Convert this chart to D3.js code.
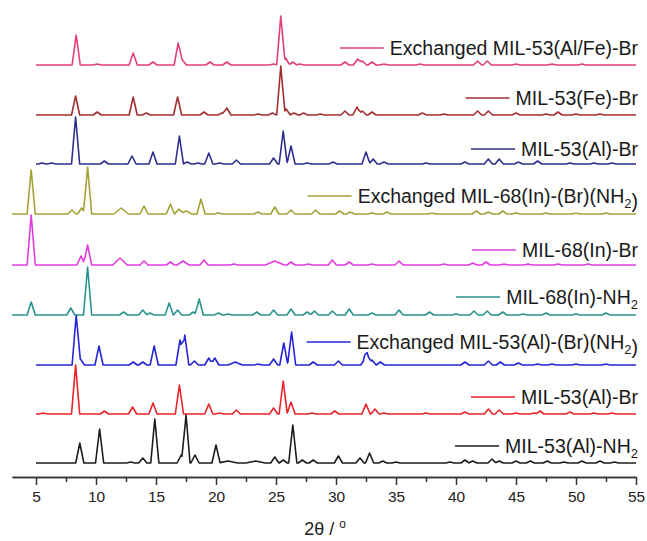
<!DOCTYPE html>
<html>
<head>
<meta charset="utf-8">
<script src="https://cdn.jsdelivr.net/npm/d3@7"></script>
<style>
  html, body { margin: 0; padding: 0; background: #fff; }
  svg { display: block; font-family: "Liberation Sans", Arial, sans-serif; }
</style>
</head>
<body>
<svg id="chart" width="647" height="541"></svg>
<script>
// ---------------- data ----------------
// series listed bottom -> top
const seriesNames = [
  "MIL-53(Al)-NH2",
  "MIL-53(Al)-Br",
  "Exchanged MIL-53(Al)-(Br)(NH2)",
  "MIL-68(In)-NH2",
  "MIL-68(In)-Br",
  "Exchanged MIL-68(In)-(Br)(NH2)",
  "MIL-53(Al)-Br",
  "MIL-53(Fe)-Br",
  "Exchanged MIL-53(Al/Fe)-Br"
];
// vertical stacking offsets (intensity units, a.u.)
const seriesOffsets = [14, 63, 112, 162, 212, 263, 313, 362, 412];
// 2θ range measured for each pattern
const seriesStart = [5, 5, 5, 3, 3, 3, 5, 5, 5];
const seriesEnd   = [55, 55, 55, 55, 55, 55, 55, 55, 55];

// peaks: [2θ, intensity (a.u.), optional half width in degrees]
const peaksAlNH2 = [[8.65,20],[10.3,34],[12.9,1],[13.9,5],[14.9,44],[17.1,8],[17.5,48],[18.25,8],[20.0,18],[21.0,2,0.8],[23.3,2,0.8],[24.9,6],[25.6,3],[26.4,38],[27.2,3],[28.1,3],[30.2,7],[32.0,5],[32.8,10],[33.9,2],[35.0,1],[39.5,1],[40.75,3],[41.4,2],[43.0,4],[43.6,2],[45.0,2],[46.2,2],[47.6,2],[49.0,1],[50.5,2],[52.0,2],[53.2,1]];
const peaksAlBr = [[5.6,1],[8.3,49],[10.7,3],[13.05,7],[14.75,11],[16.95,29],[19.4,10],[20.3,1],[21.7,4],[24.8,6],[25.6,33],[26.25,12],[28.0,1],[29.9,3],[32.5,10],[33.25,5],[34.0,1],[37.5,1],[40.75,2],[42.7,5],[43.6,4],[45.0,1],[46.5,1],[47.0,3],[49.5,2],[51.5,1],[53,1]];
const peaksExAl = [[8.35,50],[8.7,6],[10.25,19],[13.1,3],[13.9,3],[14.85,19],[17.0,25],[17.4,30],[18.2,4],[19.4,7],[19.9,7],[21.6,3,0.6],[23.5,1],[24.8,6],[25.65,22],[26.3,33],[28.1,3],[30.2,4],[32.4,6],[32.6,10],[33.0,5],[33.7,3],[40.75,3],[42.7,4],[43.7,3],[45.2,2],[46.8,1],[48.0,1],[50.0,1],[52.5,1]];
const peaksInNH2 = [[4.6,13],[7.9,7],[9.3,48],[12.3,3],[13.9,5],[14.5,2],[16.1,12],[16.8,5],[18.1,3],[18.6,16],[20.2,2],[21.0,1],[23.4,3],[24.8,5],[26.25,6],[27.6,3],[28.2,4],[29.7,4],[31.1,6],[33.0,2],[35.25,5],[37.8,3],[40.0,1],[41.5,4],[42.6,4],[43.9,3],[45.6,1],[47.5,2],[50,1],[52.5,2]];
const peaksInBr = [[4.6,50],[8.75,9],[9.3,20],[12.0,7,0.6],[14.0,4],[16.2,3],[17.25,4,0.5],[19.0,5],[21.5,1],[24.9,4,0.8],[26.25,3],[27.7,1],[29.7,5],[31.1,3],[33.0,1],[35.25,4],[39.0,1],[41.4,2],[42.5,3],[44.0,1],[46.0,1],[48.5,1],[51,1]];
const peaksExIn = [[4.6,44],[8.0,4],[8.8,6],[9.3,47],[12.1,6,0.6],[14.0,8],[16.2,10],[16.9,5],[17.5,3,0.5],[18.75,15],[20.2,1],[23.5,2],[24.9,7],[26.25,4],[28.3,4],[30.3,3],[31.2,2],[33.0,1],[34.25,2],[38.0,1],[41.7,3],[42.7,2],[43.9,3],[45.0,1],[47.5,1],[50,1],[52.5,1]];
const peaksAlBr2 = [[5.5,1],[6.3,1],[8.3,47],[10.7,3],[13.0,8],[14.75,12],[16.95,28],[17.6,2],[18.5,1],[19.4,11],[20.3,1],[21.7,4],[24.8,6],[25.6,33],[26.25,18],[27.6,1],[29.75,2],[32.5,12],[33.1,5],[34.0,2],[37.5,1],[40.75,2],[42.7,5],[43.6,5],[45.2,2],[46.8,3],[49.5,1],[51.5,1],[53,1]];
const peaksFeBr = [[8.3,19],[10.1,3],[13.1,18],[14.2,2],[16.8,18],[19.0,3],[20.5,2],[20.9,7],[23.5,1],[24.7,2],[25.4,49],[25.85,6],[26.5,2],[27.3,2],[28.7,1],[30.75,4],[31.75,8],[32.2,4],[33.0,3],[37.2,2],[39.0,1],[41.8,4],[42.7,4],[45.0,2],[47.5,1],[48.5,3],[50,1],[52,1]];
const peaksExAlFe = [[8.35,30],[10.1,1],[13.1,12],[14.75,3],[16.85,22],[17.2,5],[19.5,3],[20.9,3],[24.8,1],[25.4,49],[25.8,7],[26.4,3],[27.0,1],[30.75,3],[31.8,6],[32.2,4],[33.0,3],[34.0,1],[37.0,1],[41.8,4],[42.6,4],[45,1],[48,1],[50.5,1]];
const seriesPeaks = [peaksAlNH2, peaksAlBr, peaksExAl, peaksInNH2, peaksInBr, peaksExIn, peaksAlBr2, peaksFeBr, peaksExAlFe];

const majorTicks = [5, 10, 15, 20, 25, 30, 35, 40, 45, 50, 55];
const minorTicks = [7.5, 12.5, 17.5, 22.5, 27.5, 32.5, 37.5, 42.5, 47.5, 52.5];
const xTitle = "2θ / ";

// ---------------- styles / layout ----------------
const colors = ["#1c1c1c", "#e8242a", "#2424d8", "#2a928e", "#e23ce0", "#a2a238", "#2e2e8e", "#a22e30", "#e23e7c"];
const legendLift = [17, 17, 23, 18, 15, 18, 15, 17, 17];
const axisY = 477;

const svg = d3.select("#chart");
const x = d3.scaleLinear().domain([3, 55]).range([12, 636]);
const y = d3.scaleLinear().domain([0, 470]).range([axisY, axisY - 470]);

const defaultHW = 0.34;

// piecewise-linear profile: sum of triangular peaks evaluated at their break points
function profile(peaks, x0, x1) {
  const bps = new Set([x0, x1]);
  peaks.forEach(p => {
    const hw = p[2] || defaultHW;
    [p[0] - hw, p[0], p[0] + hw].forEach(v => { if (v > x0 && v < x1) bps.add(+v.toFixed(4)); });
  });
  const xs = Array.from(bps).sort((a, b) => a - b);
  return xs.map(t => {
    let v = 0;
    peaks.forEach(p => {
      const hw = p[2] || defaultHW;
      const d = Math.abs(t - p[0]);
      if (d < hw) v += p[1] * (1 - d / hw);
    });
    return [t, v];
  });
}

const line = d3.line().x(d => x(d[0])).y(d => y(d[1]));

const g = svg.append("g");
seriesNames.forEach((name, i) => {
  const pts = profile(seriesPeaks[i], seriesStart[i], seriesEnd[i]).map(d => [d[0], d[1] + seriesOffsets[i]]);
  g.append("path")
    .datum(pts)
    .attr("fill", "none")
    .attr("stroke", colors[i])
    .attr("stroke-width", 1.6)
    .attr("stroke-linejoin", "round")
    .attr("d", line);
});

// legends
const legFont = 19.5;
seriesNames.forEach((name, i) => {
  const ly = y(seriesOffsets[i] + legendLift[i]);
  const t = svg.append("text")
    .attr("x", 638)
    .attr("y", ly + 7)
    .attr("text-anchor", "end")
    .attr("font-size", legFont)
    .attr("fill", "#1a1a1a");
  const parts = name.split("NH2");
  parts.forEach((p, k) => {
    if (p) t.append("tspan").text(p);
    if (k < parts.length - 1) {
      t.append("tspan").text("NH");
      t.append("tspan").attr("font-size", 13).attr("dy", 5).text("2");
      t.append("tspan").attr("dy", -5).text("");
    }
  });
  const bb = t.node().getBBox();
  const x2 = bb.x - 6;
  svg.append("line")
    .attr("x1", x2 - 44).attr("x2", x2)
    .attr("y1", ly).attr("y2", ly)
    .attr("stroke", colors[i]).attr("stroke-width", 1.7);
});

// x axis
const axMajor = d3.axisBottom(x).tickValues(majorTicks).tickSize(8).tickSizeOuter(0).tickPadding(6).tickFormat(d3.format("d"));
const axMinor = d3.axisBottom(x).tickValues(minorTicks).tickSize(5).tickSizeOuter(0).tickFormat("");
const gMin = svg.append("g").attr("transform", `translate(0,${axisY})`).call(axMinor);
const gMaj = svg.append("g").attr("transform", `translate(0,${axisY})`).call(axMajor);
[gMin, gMaj].forEach(ga => {
  ga.select(".domain").attr("stroke", "#333").attr("stroke-width", 1.5);
  ga.selectAll(".tick line").attr("stroke", "#333").attr("stroke-width", 1.5);
});
gMaj.selectAll(".tick text")
  .attr("font-size", 15.5)
  .attr("fill", "#222")
  .attr("font-family", "'Liberation Sans', Arial, sans-serif");

// axis title
const tt = svg.append("text")
  .attr("x", 325).attr("y", 535)
  .attr("text-anchor", "middle")
  .attr("font-size", 18)
  .attr("fill", "#222");
tt.append("tspan").text(xTitle);
tt.append("tspan").attr("font-size", 12).attr("dy", -7).text("o");
</script>
</body>
</html>
